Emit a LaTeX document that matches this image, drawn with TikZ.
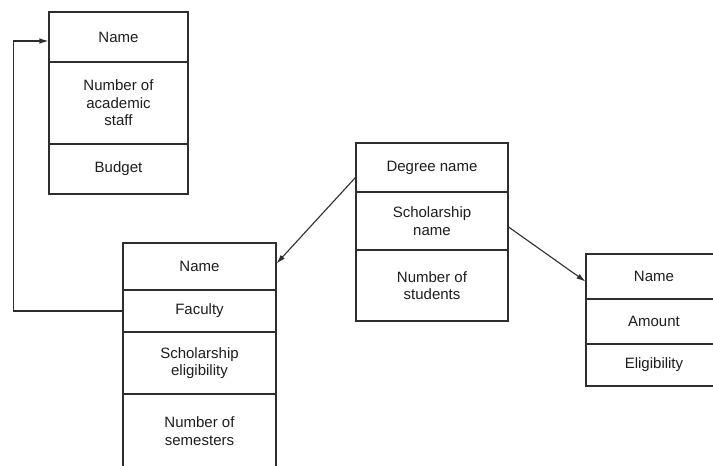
\documentclass[tikz,border=0pt]{standalone}
\usepackage{fontspec}
\setmainfont{Liberation Sans}
\usetikzlibrary{arrows.meta}
\definecolor{ln}{HTML}{2E2E2E}
\definecolor{tx}{HTML}{1E1E1E}
\begin{document}
\begin{tikzpicture}[x=1pt,y=-1pt,
  row/.style={draw=ln,line width=1.1pt,rectangle,inner sep=0pt,align=center,text=tx,
    font=\fontsize{15}{17.5}\selectfont},
  conn/.style={draw=ln,line width=1.1pt,-{Latex[length=9pt,width=5.5pt]}}]
\useasboundingbox (0,0) rectangle (713,466);
\fill[white] (0,0) rectangle (713,466);
% Box 1
\node[row,minimum width=139pt,minimum height=50pt] (a1) at (118.5,37) {Name};
\node[row,minimum width=139pt,minimum height=82pt] (a2) at (118.5,103) {Number of\\academic\\staff};
\node[row,minimum width=139pt,minimum height=50pt] (a3) at (118.5,169) {Budget};
% Box 2
\node[row,minimum width=153pt,minimum height=47pt] (b1) at (199.5,266.5) {Name};
\node[row,minimum width=153pt,minimum height=42pt] (b2) at (199.5,311) {Faculty};
\node[row,minimum width=153pt,minimum height=62pt] (b3) at (199.5,363) {Scholarship\\eligibility};
\node[row,minimum width=153pt,minimum height=74pt] (b4) at (199.5,431) {Number of\\semesters};
% Box 3
\node[row,minimum width=152pt,minimum height=49pt] (c1) at (432,167.5) {Degree name};
\node[row,minimum width=152pt,minimum height=58pt] (c2) at (432,221) {Scholarship\\name};
\node[row,minimum width=152pt,minimum height=71pt] (c3) at (432,285.5) {Number of\\students};
% Box 4
\node[row,minimum width=136pt,minimum height=45pt] (d1) at (654,276.5) {Name};
\node[row,minimum width=136pt,minimum height=45pt] (d2) at (654,321.5) {Amount};
\node[row,minimum width=136pt,minimum height=42pt] (d3) at (654,365) {Eligibility};
% Connectors
\draw[conn] (b2.west) -- ++(-109,0) |- ([yshift=-4pt]a1.west);
\draw[conn] ([yshift=-10pt]c1.west) -- ([yshift=3pt]b1.east);
\draw[conn] ([yshift=-6pt]c2.east) -- ([yshift=-5pt]d1.west);
\end{tikzpicture}
\end{document}
